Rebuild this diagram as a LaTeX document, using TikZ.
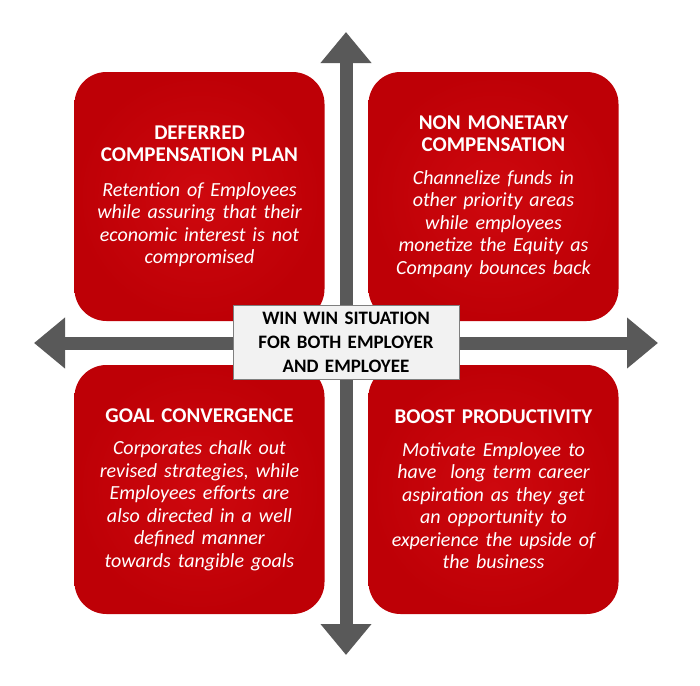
\documentclass[tikz,border=0pt]{standalone}
\usepackage{fontspec}
\setmainfont{Carlito}
\usepackage{xcolor}
\usepackage{tikz}
\usetikzlibrary{arrows.meta,positioning}
\definecolor{quadRedDark}{RGB}{190,0,6}
\definecolor{quadRedLight}{RGB}{206,8,14}
\definecolor{axisGray}{RGB}{89,89,89}
\definecolor{winFill}{RGB}{242,242,242}
\definecolor{winEdge}{RGB}{127,127,127}

\tikzset{
  quad/.style={shading=radial, inner color=quadRedLight, outer color=quadRedDark,
    rounded corners=32pt, minimum width=250pt, minimum height=249pt,
    text=white, align=center, text width=246pt, inner sep=0pt,
    font=\fontsize{21}{22.5}\selectfont},
  axisline/.style={axisGray, line width=13pt,
    {Triangle[length=31pt,width=49pt]}-{Triangle[length=31pt,width=49pt]}},
  winbox/.style={fill=winFill, draw=winEdge, line width=0.9pt,
    minimum width=226pt, minimum height=74pt, align=center, text width=222pt,
    inner sep=0pt, font=\fontsize{19}{24}\selectfont\bfseries}
}
\newcommand{\quadbody}{\fontsize{20}{22.5}\selectfont\mdseries\itshape}

\begin{document}
\begin{tikzpicture}[x=1pt,y=-1pt]
\useasboundingbox (0,0) rectangle (700,685);

% arrow ends
\coordinate (north) at (346,32);
\coordinate (south) at (346,655);
\coordinate (west) at (34,343);
\coordinate (east) at (658,343);
\draw[axisline] (north) -- (south);
\draw[axisline] (west) -- (east);

% the four quadrants
\node[quad] (deferred) at (199.5,196.5) {\bfseries DEFERRED\\COMPENSATION PLAN\\[12pt]
  \quadbody Retention of Employees\\while assuring that their\\economic interest is not\\compromised};
\node[quad] (nonmonetary) at (493.5,196.5) {\bfseries NON MONETARY\\COMPENSATION\\[10pt]
  \quadbody Channelize funds in\\other priority areas\\while employees\\monetize the Equity as\\Company bounces back};
\node[quad] (goal) at (199.5,489.5) {\bfseries GOAL CONVERGENCE\\[10pt]
  \quadbody Corporates chalk out\\revised strategies, while\\Employees efforts are\\also directed in a well\\defined manner\\towards tangible goals};
\node[quad] (boost) at (493.5,489.5) {\bfseries BOOST PRODUCTIVITY\\[10pt]
  \quadbody Motivate Employee to\\have\ \ long term career\\aspiration as they get\\an opportunity to\\experience the upside of\\the business};

% centre box
\node[winbox] (win) at (346,342) {WIN WIN SITUATION\\FOR BOTH EMPLOYER\\AND EMPLOYEE};
\end{tikzpicture}
\end{document}
